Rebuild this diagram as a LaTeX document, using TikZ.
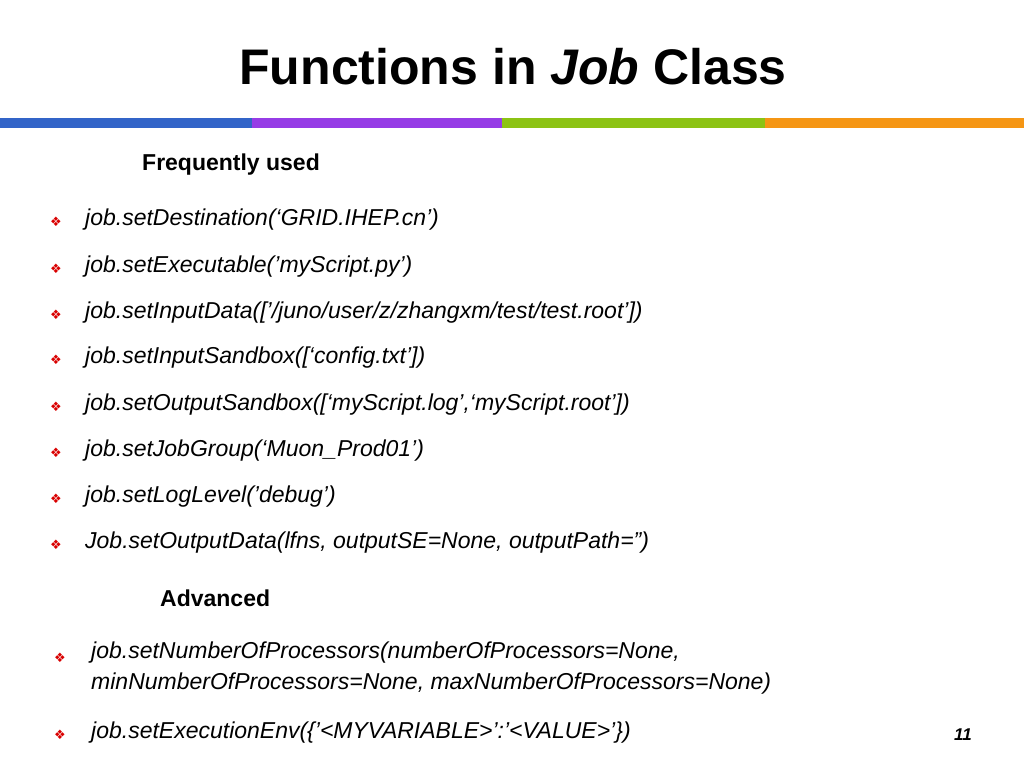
\documentclass[tikz,border=0pt]{standalone}
\usepackage{fontspec}
\setmainfont{Liberation Sans}
\newfontfamily\bulfont{DejaVu Sans}
\definecolor{cA}{RGB}{50,100,200}
\definecolor{cB}{RGB}{150,60,230}
\definecolor{cC}{RGB}{140,195,20}
\definecolor{cD}{RGB}{245,150,20}
\begin{document}
\begin{tikzpicture}[x=1pt,y=-1pt,
  item/.style={anchor=west,font=\fontsize{23}{27}\selectfont\itshape,inner sep=0pt},
  bul/.style={anchor=center,text=red!85!black,font=\bulfont\fontsize{13}{13}\selectfont,inner sep=0pt},
  head/.style={anchor=west,font=\fontsize{23}{27}\selectfont\bfseries,inner sep=0pt}]
\useasboundingbox (0,0) rectangle (1024,768);
\fill[white] (0,0) rectangle (1024,768);
\node[font=\fontsize{50}{56}\selectfont\bfseries,inner sep=0pt] (title) at (513,67) {Functions in \textit{Job} Class};
\fill[cA] (0,118) rectangle (252,128);
\fill[cB] (252,118) rectangle (502,128);
\fill[cC] (502,118) rectangle (765,128);
\fill[cD] (765,118) rectangle (1024,128);
\node[head] (h1) at (142,165) {Frequently used};
\foreach \y/\t [count=\i] in {
 220/{job.setDestination(‘GRID.IHEP.cn')},
 267/{job.setExecutable('myScript.py')},
 313/{job.setInputData(['/juno/user/z/zhangxm/test/test.root'])},
 358/{job.setInputSandbox([‘config.txt'])},
 405/{job.setOutputSandbox([‘myScript.log',‘myScript.root'])},
 451/{job.setJobGroup(‘Muon\_Prod01')},
 497/{job.setLogLevel('debug')},
 543/{Job.setOutputData(lfns, outputSE=None, outputPath='')}}{
  \node[bul] (b\i) at (56,\y+2) {❖};
  \node[item] (t\i) at (85,\y) {\t};
}
\node[head] (h2) at (160,598) {Advanced};
\node[bul] (b9) at (60,658) {❖};
\node[item,anchor=north west,align=left,font=\fontsize{23}{31}\selectfont\itshape] (t9) at (91,642) {job.setNumberOfProcessors(numberOfProcessors=None,\\minNumberOfProcessors=None, maxNumberOfProcessors=None)};
\node[bul] (b10) at (60,735) {❖};
\node[item] (t10) at (91,733) {job.setExecutionEnv(\{'<MYVARIABLE>':'<VALUE>'\})};
\node[font=\fontsize{17}{20}\selectfont\bfseries\itshape,inner sep=0pt] (pg) at (963,735) {11};
\end{tikzpicture}
\end{document}
